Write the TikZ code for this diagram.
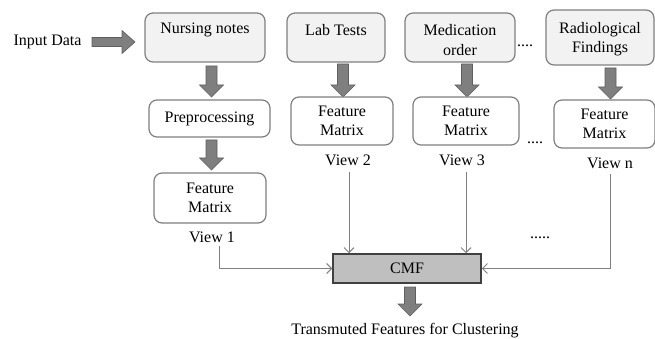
\documentclass[tikz,border=0pt]{standalone}
\usepackage{fontspec}
\setmainfont{Liberation Serif}
\usetikzlibrary{arrows.meta}
\definecolor{boxline}{HTML}{7F7F7F}
\definecolor{topfill}{HTML}{F2F2F2}
\definecolor{arrfill}{HTML}{7F7F7F}
\definecolor{arrline}{HTML}{5F5F5F}
\definecolor{cmffill}{HTML}{BFBFBF}
\definecolor{cmfline}{HTML}{404040}
\definecolor{thinline}{HTML}{808080}
\newcommand\vblock[3]{%
  \filldraw[blockarrow] (#1-5.5,#2) -- (#1+5.5,#2) -- (#1+5.5,#3-12) -- (#1+12,#3-12) -- (#1,#3) -- (#1-12,#3-12) -- (#1-5.5,#3-12) -- cycle;}
\begin{document}
\begin{tikzpicture}[x=1pt,y=-1pt,
  every node/.style={font=\fontsize{16}{19.5}\selectfont, inner sep=0pt, align=center},
  topbox/.style={draw=boxline, line width=1.2pt, fill=topfill, rounded corners=8pt},
  featbox/.style={draw=boxline, line width=1.2pt, fill=white, rounded corners=8pt},
  cmfbox/.style={draw=cmfline, line width=1.5pt, fill=cmffill},
  blockarrow/.style={fill=arrfill, draw=arrline, line width=0.6pt},
  thin/.style={draw=thinline, line width=1pt, -{Straight Barb[length=5pt,width=10pt]}}]
\useasboundingbox (0,0) rectangle (655,339);
% input
\node (inp) at (47.5,42) {Input Data};
\filldraw[blockarrow] (92,37.5) -- (122,37.5) -- (122,30.5) -- (135,42) -- (122,53.5) -- (122,46.5) -- (92,46.5) -- cycle;
% top boxes
\node[topbox, minimum width=120pt, minimum height=49pt] (nn) at (205,37.5) {};
\node (nnt) at (205,30) {Nursing notes};
\node[topbox, minimum width=98pt, minimum height=49pt] (lt) at (336,37.5) {};
\node (ltt) at (336,30) {Lab Tests};
\node[topbox, minimum width=110pt, minimum height=49pt] (mo) at (460,37.5) {};
\node (mot) at (460,40) {Medication\\order};
\node[topbox, minimum width=108pt, minimum height=55pt] (rf) at (600,37.5) {};
\node (rft) at (600,39) {Radiological\\Findings};
\node (d1) at (525,46) {....};
% block arrows from top boxes
\vblock{211.5}{66}{97}
\vblock{343}{64}{97}
\vblock{467}{64}{97}
\vblock{610.5}{68}{99}
% second row
\node[featbox, minimum width=121pt, minimum height=37pt] (pp) at (209.5,118.5) {Preprocessing};
\node[featbox, minimum width=102pt, minimum height=48pt] (fm2) at (342,121) {Feature\\Matrix};
\node[featbox, minimum width=106pt, minimum height=48pt] (fm3) at (466,121) {Feature\\Matrix};
\node[featbox, minimum width=101pt, minimum height=48pt] (fmn) at (604.5,124) {Feature\\Matrix};
\node (d2) at (535,143) {....};
\vblock{211.5}{140}{170}
\node[featbox, minimum width=112pt, minimum height=50pt] (fm1) at (210,198) {Feature\\Matrix};
% view labels
\node (v1) at (212,237) {View 1};
\node (v2) at (348,160) {View 2};
\node (v3) at (462,160) {View 3};
\node (vn) at (610,163) {View n};
\node (d3) at (540,238) {.....};
% CMF
\node[cmfbox, minimum width=148pt, minimum height=29pt] (cmf) at (407,268.5) {CMF};
\vblock{410}{287}{316}
\node (out) at (405,331) {Transmuted Features for Clustering};
% thin connectors
\coordinate (v1s) at (219,246);
\coordinate (v2s) at (349,172);
\coordinate (v3s) at (466,172);
\coordinate (vns) at (610,174);
\draw[thin] (v1s) |- (cmf.west);
\draw[thin] (v2s) -- (v2s |- cmf.north);
\draw[thin] (v3s) -- (v3s |- cmf.north);
\draw[thin] (vns) |- (cmf.east);
\end{tikzpicture}
\end{document}
